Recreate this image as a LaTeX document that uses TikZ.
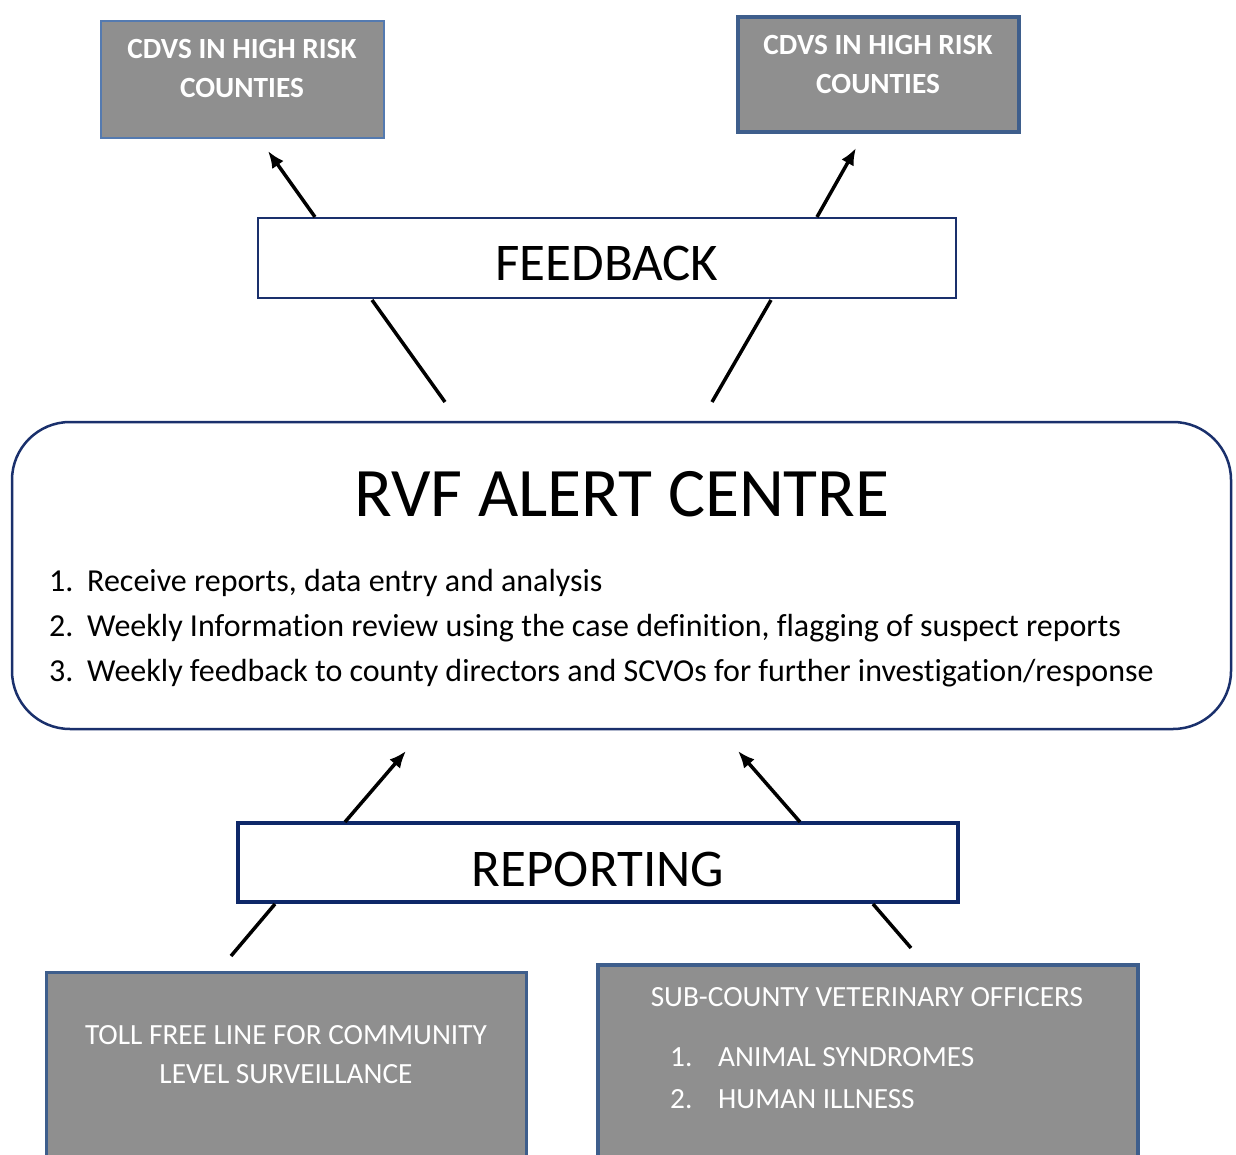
\documentclass[tikz,border=0pt]{standalone}
\usepackage{fontspec}
\setmainfont[Ligatures={NoCommon}]{Carlito}
\usetikzlibrary{arrows.meta}
\definecolor{boxgray}{RGB}{143,143,143}
\definecolor{lightblueb}{RGB}{84,122,176}
\definecolor{midblueb}{RGB}{62,94,140}
\definecolor{navyb}{RGB}{26,48,108}
\definecolor{darknavy}{RGB}{14,40,104}
\tikzset{
  graybox/.style={rectangle, fill=boxgray, inner sep=0pt},
  whitebox/.style={rectangle, fill=white, inner sep=0pt},
  wtxt/.style={text=white, inner sep=0pt},
  btxt/.style={text=black, inner sep=0pt},
  arr/.style={line width=3.5pt, -{Latex[length=17pt,width=14pt]}},
  plain/.style={line width=3.5pt},
  smallfont/.style={font=\fontsize{29.3}{35}\selectfont},
  boldfont/.style={font=\bfseries\fontsize{29.3}{35}\selectfont},
  listfont/.style={font=\fontsize{32}{38}\selectfont},
  bigfont/.style={font=\fontsize{53}{62}\selectfont},
}
\begin{document}
\begin{tikzpicture}[x=1pt,y=-1pt]
\clip (0,0) rectangle (1236,1155);
\fill[white] (0,0) rectangle (1236,1155);

% top boxes
\node[graybox, draw=lightblueb, line width=2pt, minimum width=283pt, minimum height=117pt] (cdvsL) at (242.5,79.5) {};
\node[graybox, draw=midblueb, line width=4.5pt, minimum width=281pt, minimum height=115pt] (cdvsR) at (878.5,74.5) {};
\node[wtxt, anchor=base, boldfont] (cdvsL1) at (242,59) {CDVS IN HIGH RISK};
\node[wtxt, anchor=base, boldfont] (cdvsL2) at (242,98) {COUNTIES};
\node[wtxt, anchor=base, boldfont] (cdvsR1) at (878,55) {CDVS IN HIGH RISK};
\node[wtxt, anchor=base, boldfont] (cdvsR2) at (878,94) {COUNTIES};

% feedback
\node[whitebox, draw=navyb, line width=2.5pt, minimum width=698pt, minimum height=80pt] (fb) at (607,258) {};
\node[btxt, anchor=base, bigfont] (fbt) at (607,281) {FEEDBACK};

% RVF centre
\node[whitebox, draw=navyb, line width=2.5pt, rounded corners=58pt, minimum width=1219pt, minimum height=307pt] (rvf) at (621.5,575.5) {};
\node[btxt, anchor=base, font=\fontsize{69.5}{80}\selectfont] (rvft) at (622,516) {RVF ALERT CENTRE};
\node[btxt, anchor=base west, listfont] (n1) at (49,591) {1.};
\node[btxt, anchor=base west, listfont] (i1) at (87,591) {Receive reports, data entry and analysis};
\node[btxt, anchor=base west, listfont] (n2) at (49,636) {2.};
\node[btxt, anchor=base west, listfont] (i2) at (87,636) {Weekly Information review using the case definition, flagging of suspect reports};
\node[btxt, anchor=base west, listfont] (n3) at (49,681) {3.};
\node[btxt, anchor=base west, listfont] (i3) at (87,681) {Weekly feedback to county directors and SCVOs for further investigation/response};

% reporting
\node[whitebox, draw=darknavy, line width=4.5pt, minimum width=720pt, minimum height=79pt] (rep) at (598,862.5) {};
\node[btxt, anchor=base, bigfont] (rept) at (598,886) {REPORTING};

% bottom boxes
\node[graybox, draw=midblueb, line width=3pt, minimum width=480pt, minimum height=240pt] (toll) at (286,1092) {};
\node[graybox, draw=midblueb, line width=4pt, minimum width=540pt, minimum height=250pt] (scvo) at (868,1090) {};
\node[wtxt, anchor=base, smallfont] (toll1) at (286,1044) {TOLL FREE LINE FOR COMMUNITY};
\node[wtxt, anchor=base, smallfont] (toll2) at (286,1083) {LEVEL SURVEILLANCE};
\node[wtxt, anchor=base, smallfont] (scvot) at (867,1006) {SUB-COUNTY VETERINARY OFFICERS};
\node[wtxt, anchor=base west, smallfont] (sn1) at (670,1066) {1.};
\node[wtxt, anchor=base west, smallfont] (si1) at (718,1066) {ANIMAL SYNDROMES};
\node[wtxt, anchor=base west, smallfont] (sn2) at (670,1108) {2.};
\node[wtxt, anchor=base west, smallfont] (si2) at (718,1108) {HUMAN ILLNESS};

% connector end points
\coordinate (fbL) at (315,217);
\coordinate (fbLtip) at (268,151);
\coordinate (fbR) at (817,217);
\coordinate (fbRtip) at (856,148);
\coordinate (rvfL) at (445,402);
\coordinate (fbLb) at (372,300);
\coordinate (rvfR) at (712,402);
\coordinate (fbRb) at (771,300);
\coordinate (repL) at (345,822);
\coordinate (repLtip) at (406,751);
\coordinate (repR) at (800,822);
\coordinate (repRtip) at (738,751);
\coordinate (repLb) at (275,904);
\coordinate (tollt) at (231,956);
\coordinate (repRb) at (873,904);
\coordinate (scvot0) at (911,948);

\draw[arr] (fbL) -- (fbLtip);
\draw[arr] (fbR) -- (fbRtip);
\draw[plain] (rvfL) -- (fbLb);
\draw[plain] (rvfR) -- (fbRb);
\draw[arr] (repL) -- (repLtip);
\draw[arr] (repR) -- (repRtip);
\draw[plain] (repLb) -- (tollt);
\draw[plain] (repRb) -- (scvot0);
\end{tikzpicture}
\end{document}
